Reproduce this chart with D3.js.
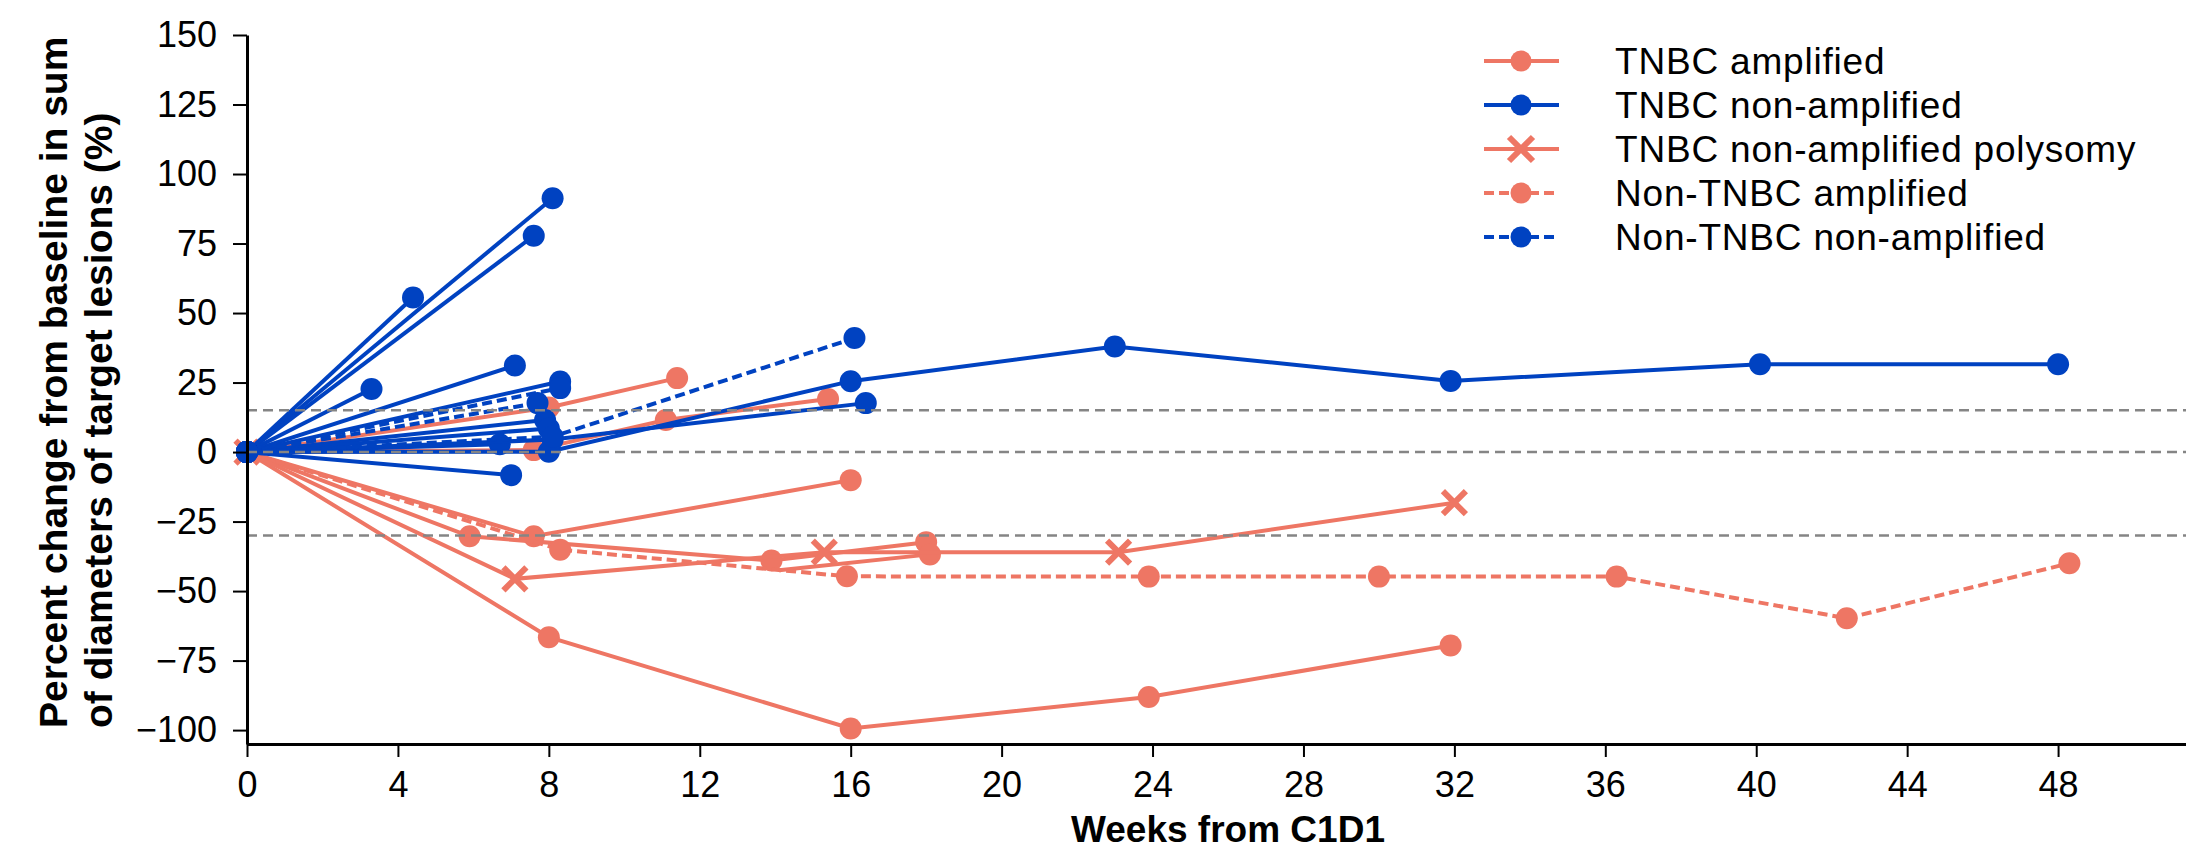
<!DOCTYPE html>
<html>
<head>
<meta charset="utf-8">
<script src="https://cdn.jsdelivr.net/npm/d3@7"></script>
<style>
  html, body { margin: 0; padding: 0; background: #fff; }
  svg text { font-family: "Liberation Sans", Arial, Helvetica, sans-serif; }
</style>
</head>
<body>
<svg id="chart" width="2186" height="855"></svg>
<script>
// one array of [week, percent change] per patient, grouped by cohort
const tnbcAmplified = [
  [[0, 0], [8.0, 16], [11.4, 26.6]],
  [[0, 0], [7.6, 0.7], [11.1, 11.5], [15.4, 19.1]],
  [[0, 0], [7.6, -30.3], [16.0, -10.1]],
  [[0, 0], [5.9, -30.3], [13.9, -39.0], [18.0, -32.4]],
  [[14.1, -42.5], [18.1, -36.8]],
  [[0, 0], [8.0, -66.6], [16.0, -99.4], [23.9, -88.1], [31.9, -69.6]]
];
const tnbcNonAmplified = [
  [[0, 0], [4.4, 55.6]],
  [[0, 0], [8.1, 91.3]],
  [[0, 0], [7.6, 77.8]],
  [[0, 0], [3.3, 22.7]],
  [[0, 0], [7.1, 31.1]],
  [[0, 0], [8.3, 25.4]],
  [[0, 0], [7.9, 11.5]],
  [[0, 0], [8.0, 8.5]],
  [[0, 0], [6.7, 2.8]],
  [[0, 0], [7.0, -8.3]],
  [[0, 0], [8.1, 4.5], [16.4, 17.6]],
  [[0, 0], [8.0, 0.1], [16.0, 25.5], [23.0, 38.0], [31.9, 25.6], [40.1, 31.6], [48.0, 31.6]]
];
const tnbcPolysomy = [
  [[0, 0], [7.1, -45.6], [15.3, -36.0], [23.1, -36.0], [32.0, -18.2]]
];
const nonTnbcAmplified = [
  [[0, 0], [8.3, -35.1], [15.9, -44.7], [23.9, -44.8], [30.0, -44.8], [36.3, -44.8], [42.4, -59.8], [48.3, -40.0]]
];
const nonTnbcNonAmplified = [
  [[0, 0], [8.3, 23.0]],
  [[0, 0], [7.7, 17.6]],
  [[0, 0], [8.1, 5.5], [16.1, 41.0]]
];
// line vertex with no visible marker in the source
const unmarked = [[14.1, -42.5]];

const groupNames = ["TNBC amplified", "TNBC non-amplified", "TNBC non-amplified polysomy",
                    "Non-TNBC amplified", "Non-TNBC non-amplified"];
const refLines = [15, 0, -30];
const xTicks = d3.range(0, 49, 4);
const yTicks = d3.range(-100, 151, 25);

const salmon = "#ee7664";
const blue = "#0042c1";

const groups = [
  { name: groupNames[0], data: tnbcAmplified, color: salmon, dash: null, shape: "circle" },
  { name: groupNames[1], data: tnbcNonAmplified, color: blue, dash: null, shape: "circle" },
  { name: groupNames[2], data: tnbcPolysomy, color: salmon, dash: null, shape: "x" },
  { name: groupNames[3], data: nonTnbcAmplified, color: salmon, dash: "10,5", shape: "circle" },
  { name: groupNames[4], data: nonTnbcNonAmplified, color: blue, dash: "10,5", shape: "circle" }
];
// salmon cohorts underneath, blue on top
const drawOrder = [0, 2, 3, 1, 4];

const svg = d3.select("#chart");
const x = d3.scaleLinear().domain([0, 52]).range([247, 2209]);
const y = d3.scaleLinear().domain([-105, 150]).range([744, 35]);

const line = d3.line().x(d => x(d[0])).y(d => y(d[1]));

function drawMarker(g, shape, color, r) {
  if (shape === "x") {
    g.append("path")
      .attr("d", `M${-r},${-r}L${r},${r}M${-r},${r}L${r},${-r}`)
      .attr("stroke", color)
      .attr("stroke-width", 6)
      .attr("fill", "none");
  } else {
    g.append("circle").attr("r", r).attr("fill", color);
  }
}

const isUnmarked = d => unmarked.some(u => u[0] === d[0] && u[1] === d[1]);

// data
const plot = svg.append("g");
drawOrder.forEach(i => {
  const grp = groups[i];
  const gg = plot.append("g");
  grp.data.forEach(pts => {
    gg.append("path")
      .attr("d", line(pts))
      .attr("fill", "none")
      .attr("stroke", grp.color)
      .attr("stroke-width", 4)
      .attr("stroke-dasharray", grp.dash);
    pts.filter(d => !isUnmarked(d)).forEach(d => {
      const m = gg.append("g").attr("transform", `translate(${x(d[0])},${y(d[1])})`);
      drawMarker(m, grp.shape, grp.color, grp.shape === "x" ? 11.5 : 11);
    });
  });
});

// reference lines
svg.append("g")
  .selectAll("line")
  .data(refLines)
  .join("line")
  .attr("x1", x(0))
  .attr("x2", 2186)
  .attr("y1", d => y(d))
  .attr("y2", d => y(d))
  .attr("stroke", "#858585")
  .attr("stroke-width", 2.5)
  .attr("stroke-dasharray", "10,6");

// axes
const xAxis = svg.append("g")
  .attr("transform", `translate(0,${y(-105)})`)
  .call(d3.axisBottom(x).tickValues(xTicks).tickSize(13).tickPadding(14).tickSizeOuter(0));
const yAxis = svg.append("g")
  .attr("transform", `translate(${x(0)},0)`)
  .call(d3.axisLeft(y).tickValues(yTicks).tickSize(14).tickPadding(16).tickSizeOuter(0));

[xAxis, yAxis].forEach(a => {
  a.attr("font-family", null).attr("font-size", null);
  a.select(".domain").attr("stroke", "#000").attr("stroke-width", 3);
  a.selectAll(".tick line").attr("stroke", "#000").attr("stroke-width", 2);
  a.selectAll(".tick text").attr("fill", "#000").style("font-size", "36px");
});

// axis titles
svg.append("text")
  .attr("x", 1228)
  .attr("y", 842)
  .attr("text-anchor", "middle")
  .attr("font-weight", "bold")
  .style("font-size", "37px")
  .text("Weeks from C1D1");

const yTitle = ["Percent change from baseline in sum", "of diameters of target lesions (%)"];
svg.append("g")
  .selectAll("text")
  .data(yTitle)
  .join("text")
  .attr("transform", (d, i) => `translate(${67 + i * 45},728) rotate(-90)`)
  .attr("text-anchor", "start")
  .attr("font-weight", "bold")
  .style("font-size", "39px")
  .text(d => d);

// legend
const legend = svg.append("g");
groups.forEach((grp, i) => {
  const cy = 61 + i * 44;
  const row = legend.append("g").attr("transform", `translate(0,${cy})`);
  row.append("line")
    .attr("x1", 1484).attr("x2", 1559)
    .attr("stroke", grp.color)
    .attr("stroke-width", 4)
    .attr("stroke-dasharray", grp.dash);
  const m = row.append("g").attr("transform", "translate(1521,0)");
  drawMarker(m, grp.shape, grp.color, grp.shape === "x" ? 12 : 10.5);
  row.append("text")
    .attr("x", 1615)
    .attr("y", 13)
    .style("font-size", "37px")
    .style("letter-spacing", "0.8px")
    .attr("fill", "#000")
    .text(grp.name);
});
</script>
</body>
</html>
